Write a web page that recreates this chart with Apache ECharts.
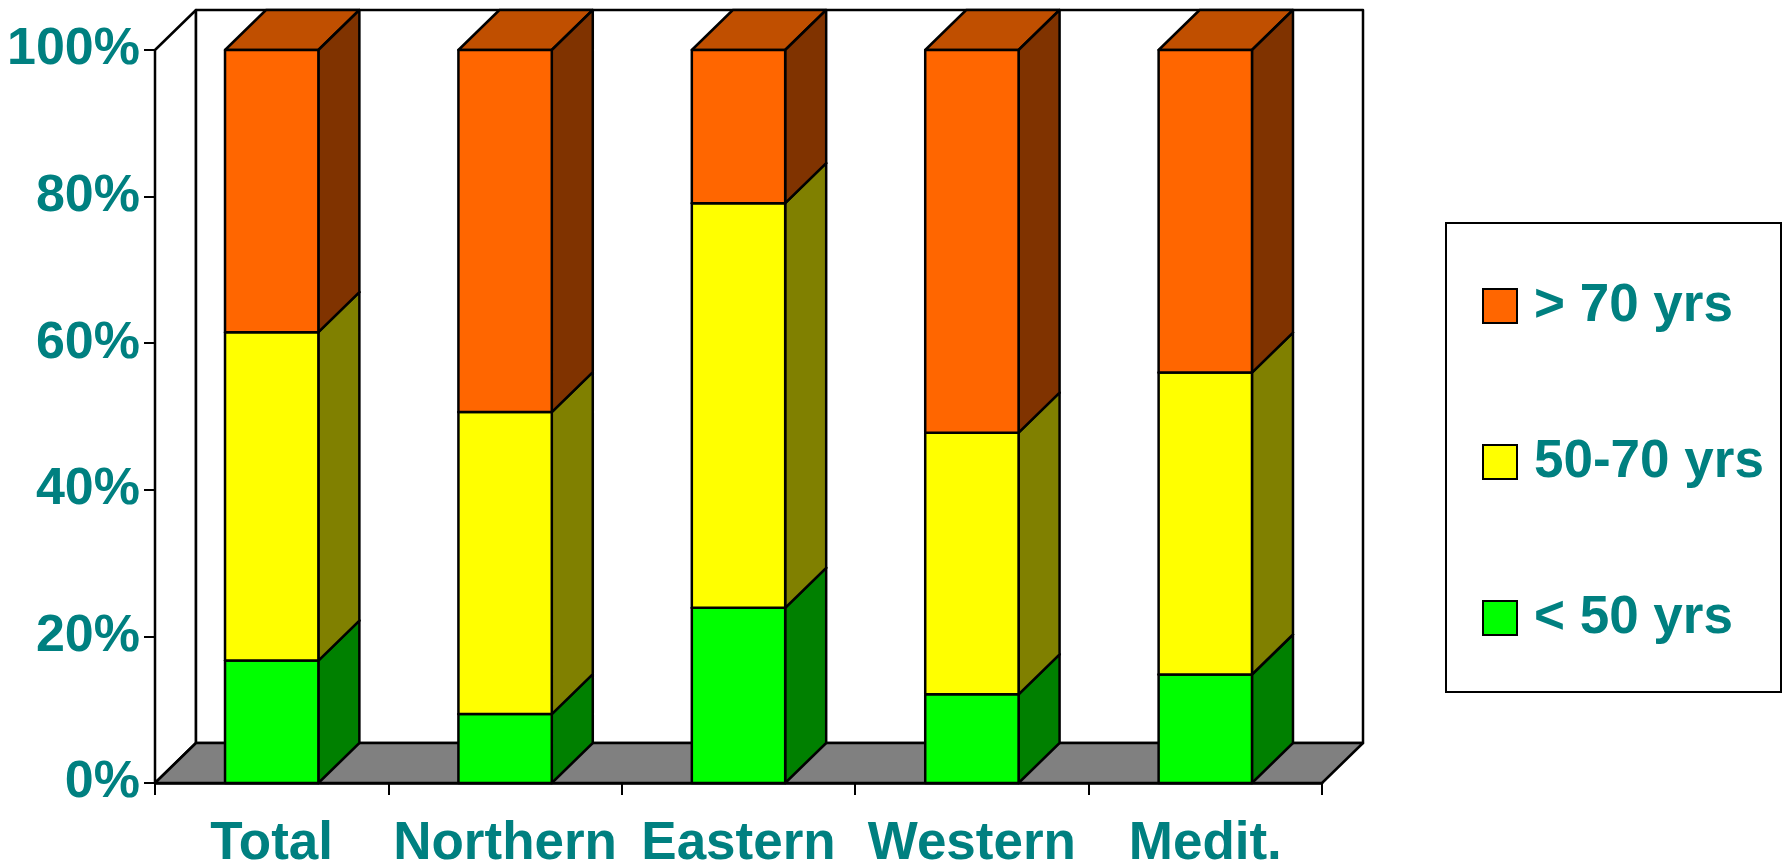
<!DOCTYPE html>
<html>
<head>
<meta charset="utf-8">
<script src="https://cdn.jsdelivr.net/npm/echarts@6/dist/echarts.min.js"></script>
<style>
  html, body { margin: 0; padding: 0; background: #fff; }
  #chart { width: 1786px; height: 864px; }
</style>
</head>
<body>
<div id="chart"></div>
<script>
// Age distribution by region (shares in percent, stacked to 100%)
const categories = ['Total', 'Northern', 'Eastern', 'Western', 'Medit.'];
const under50    = [16.7,  9.4, 23.9, 12.1, 14.8];
const from50to70 = [44.8, 41.2, 55.2, 35.7, 41.2];
const over70     = [38.5, 49.4, 20.9, 52.2, 44.0];
const seriesNames = ['< 50 yrs', '50-70 yrs', '> 70 yrs'];
const legendOrder = ['> 70 yrs', '50-70 yrs', '< 50 yrs'];

// face colours: front, side, top
const faceColors = [
  { front: '#00FF00', side: '#008000', top: '#00C000' },
  { front: '#FFFF00', side: '#808000', top: '#C0C000' },
  { front: '#FF6600', side: '#803300', top: '#C04F00' }
];

const TEAL = '#008080';
const FONT = '"Liberation Sans", Arial, sans-serif';
const DX = 41;         // depth offset, horizontal
const DY = 40;         // depth offset, vertical
const BAR_RATIO = 0.4; // bar width as share of the category band
const LINE_W = 2.5;

// cumulative [categoryIndex, start, end] per segment
const groups = [under50, from50to70, over70];
const running = categories.map(() => 0);
const stacked = groups.map(vals => vals.map((v, i) => {
  const lo = running[i];
  running[i] += v;
  return [i, lo, running[i]];
}));

const edge = { stroke: '#000', lineWidth: LINE_W, lineJoin: 'round' };

function renderWalls(params, api) {
  const cs = params.coordSys;
  const x = cs.x, y = cs.y, w = cs.width, h = cs.height;
  return {
    type: 'group',
    children: [
      { type: 'polygon', shape: { points: [[x, y], [x + DX, y - DY], [x + DX, y + h - DY], [x, y + h]] },
        style: Object.assign({ fill: '#fff' }, edge) },
      { type: 'rect', shape: { x: x + DX, y: y - DY, width: w, height: h },
        style: Object.assign({ fill: '#fff' }, edge) },
      { type: 'polygon', shape: { points: [[x, y + h], [x + w, y + h], [x + w + DX, y + h - DY], [x + DX, y + h - DY]] },
        style: Object.assign({ fill: '#808080' }, edge) }
    ]
  };
}

function makeBarRenderer(colors) {
  return function (params, api) {
    const i = api.value(0);
    const lo = api.coord([i, api.value(1)]);
    const hi = api.coord([i, api.value(2)]);
    const bw = api.size([1, 0])[0] * BAR_RATIO;
    const x0 = lo[0] - bw / 2, x1 = lo[0] + bw / 2;
    const yb = lo[1], yt = hi[1];
    return {
      type: 'group',
      children: [
        { type: 'polygon', shape: { points: [[x0, yt], [x1, yt], [x1 + DX, yt - DY], [x0 + DX, yt - DY]] },
          style: Object.assign({ fill: colors.top }, edge) },
        { type: 'polygon', shape: { points: [[x1, yb], [x1 + DX, yb - DY], [x1 + DX, yt - DY], [x1, yt]] },
          style: Object.assign({ fill: colors.side }, edge) },
        { type: 'rect', shape: { x: x0, y: yt, width: bw, height: yb - yt },
          style: Object.assign({ fill: colors.front }, edge) }
      ]
    };
  };
}

const chart = echarts.init(document.getElementById('chart'), null, { renderer: 'canvas' });

const series = [{
  name: 'walls',
  type: 'custom',
  silent: true,
  clip: false,
  z: 1,
  renderItem: renderWalls,
  data: [[0, 0]],
  encode: { x: 0, y: 1 }
}];
seriesNames.forEach((name, k) => {
  series.push({
    name: name,
    type: 'custom',
    clip: false,
    z: 2,
    renderItem: makeBarRenderer(faceColors[k]),
    itemStyle: { color: faceColors[k].front, borderColor: '#000', borderWidth: 2 },
    data: stacked[k],
    encode: { x: 0, y: [1, 2] }
  });
});

chart.setOption({
  animation: false,
  backgroundColor: '#fff',
  grid: { left: 155, right: 464, top: 50, bottom: 81, containLabel: false, outerBoundsMode: 'none' },
  xAxis: {
    type: 'category',
    data: categories,
    boundaryGap: true,
    axisLine: { show: true, lineStyle: { color: '#000', width: LINE_W } },
    axisTick: { show: true, interval: 0, length: 12, lineStyle: { color: '#000', width: 2 } },
    axisLabel: { interval: 0, color: TEAL, fontSize: 53, fontWeight: 'bold', fontFamily: FONT, margin: 35 },
    splitLine: { show: false }
  },
  yAxis: {
    type: 'value',
    min: 0, max: 100, interval: 20,
    axisLine: { show: true, lineStyle: { color: '#000', width: LINE_W } },
    axisTick: { show: true, length: 11, lineStyle: { color: '#000', width: 2 } },
    axisLabel: { color: TEAL, fontSize: 52, fontWeight: 'bold', fontFamily: FONT, margin: 15,
                 formatter: '{value}%' },
    splitLine: { show: false }
  },
  legend: {
    data: legendOrder,
    orient: 'vertical',
    left: 1482,
    top: 276,
    padding: 0,
    itemWidth: 34,
    itemHeight: 34,
    itemGap: 96,
    icon: 'rect',
    itemStyle: { borderColor: '#000', borderWidth: 2 },
    textStyle: { color: TEAL, fontSize: 53, fontWeight: 'bold', fontFamily: FONT,
                 lineHeight: 60, padding: [0, 0, 0, 12] }
  },
  graphic: [{
    type: 'rect',
    z: -1,
    shape: { x: 1446, y: 223, width: 335, height: 469 },
    style: { fill: '#fff', stroke: '#000', lineWidth: 2 }
  }],
  series: series
});
</script>
</body>
</html>
